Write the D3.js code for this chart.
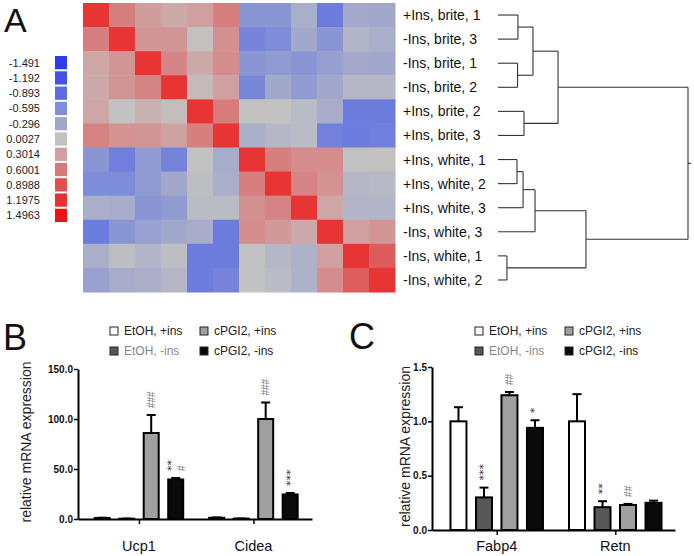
<!DOCTYPE html>
<html><head><meta charset="utf-8">
<script src="https://cdn.jsdelivr.net/npm/d3@7"></script>
<style>
html,body{margin:0;padding:0;background:#fff;}
svg{display:block;font-family:"Liberation Sans",Arial,sans-serif;}
.ann{font-family:"DejaVu Sans","Liberation Sans",sans-serif;font-variant-emoji:text;}
.annh{font-family:"Liberation Sans",Arial,sans-serif;}
</style></head>
<body><svg id="c" width="694" height="556"></svg>
<script>
// ---------- DATA ----------
const rowLabels = ["+Ins, brite, 1","-Ins, brite, 3","-Ins, brite, 1","-Ins, brite, 2","+Ins, brite, 2","+Ins, brite, 3",
  "+Ins, white, 1","+Ins, white, 2","+Ins, white, 3","-Ins, white, 3","-Ins, white, 1","-Ins, white, 2"];
const corr = [
 [1.15, 0.55, 0.33, 0.22, 0.30, 0.55,-0.50,-0.50,-0.22,-0.75,-0.28,-0.30],
 [0.55, 1.15, 0.38, 0.38, 0.02, 0.42,-0.68,-0.60,-0.30,-0.50,-0.15,-0.22],
 [0.25, 0.38, 1.15, 0.50, 0.22, 0.45,-0.50,-0.45,-0.50,-0.40,-0.28,-0.30],
 [0.22, 0.38, 0.50, 1.15, 0.08, 0.30,-0.65,-0.30,-0.45,-0.30,-0.12,-0.12],
 [0.25, 0.00, 0.15, 0.05, 1.15, 0.58, 0.00, 0.00,-0.08,-0.25,-0.75,-0.75],
 [0.52, 0.40, 0.38, 0.28, 0.55, 1.15,-0.22,-0.12,-0.08,-0.70,-0.75,-0.72],
 [-0.50,-0.72,-0.45,-0.68, 0.00,-0.25, 1.15, 0.55, 0.45, 0.45, 0.00, 0.02],
 [-0.60,-0.60,-0.45,-0.30,-0.04,-0.22, 0.55, 1.15, 0.52, 0.40,-0.12,-0.10],
 [-0.22,-0.25,-0.50,-0.45,-0.08,-0.08, 0.42, 0.52, 1.15, 0.25,-0.15,-0.15],
 [-0.75,-0.50,-0.38,-0.30,-0.25,-0.75, 0.45, 0.35, 0.22, 1.15, 0.30, 0.38],
 [-0.22,-0.04,-0.15,-0.04,-0.75,-0.75, 0.00,-0.12,-0.18, 0.30, 1.15, 0.82],
 [-0.38,-0.25,-0.22,-0.12,-0.75,-0.68, 0.00,-0.08,-0.18, 0.45, 0.80, 1.15]
];
const legendValues = [-1.491,-1.192,-0.893,-0.595,-0.296,0.0027,0.3014,0.6001,0.8988,1.1975,1.4963];
const legendLabels = ["-1.491","-1.192","-0.893","-0.595","-0.296","0.0027","0.3014","0.6001","0.8988","1.1975","1.4963"];
const legendColors = ["#2d3cf0","#4152e8","#5b6be0","#7f8ed8","#a2a8cc","#c2c2c2","#d0a0a0","#d87878","#e05050","#e83030","#f01212"];
// dendrogram: merge heights (0 = leaves, 1 = root)
const dendro = {h:1.0, children:[
  {h:0.316, children:[
    {h:0.184, children:[{h:0.105, children:[{leaf:0,h:0},{leaf:1,h:0}]},{h:0.103, children:[{leaf:2,h:0},{leaf:3,h:0}]}]},
    {h:0.137, children:[{leaf:4,h:0},{leaf:5,h:0}]}
  ]},
  {h:0.463, children:[
    {h:0.195, children:[{h:0.132, children:[{h:0.10, children:[{leaf:6,h:0},{leaf:7,h:0}]},{leaf:8,h:0}]},{leaf:9,h:0}]},
    {h:0.047, children:[{leaf:10,h:0},{leaf:11,h:0}]}
  ]}
]};

const seriesNames = ["EtOH, +ins","EtOH, -ins","cPGI2, +ins","cPGI2, -ins"];
const seriesColors = ["#ffffff","#575757","#a0a0a0","#0a0a0a"];
const seriesTextColors = ["#222","#888","#222","#222"];

const catsB = ["Ucp1","Cidea"];
const meansB = [[1.0,0.3,86,39.5],[1.2,0.4,100,24.5]];
const errsB  = [[0.3,0.1,18,1.5],[0.4,0.1,16.5,1.5]];
const ticksB = [0,50,100,150];
const annB = [
  {cat:0,s:2,text:"###",color:"#777",dx:0},
  {cat:0,s:3,text:"**",color:"#333",dx:-4},
  {cat:0,s:3,text:"#",color:"#777",dx:6},
  {cat:1,s:2,text:"###",color:"#777",dx:0},
  {cat:1,s:3,text:"***",color:"#333",dx:0}
];

const catsC = ["Fabp4","Retn"];
const meansC = [[1.0,0.30,1.24,0.94],[1.0,0.21,0.23,0.25]];
const errsC  = [[0.13,0.09,0.03,0.07],[0.25,0.055,0.01,0.02]];
const ticksC = [0,0.5,1.0,1.5];
const annC = [
  {cat:0,s:1,text:"***",color:"#333",dx:0},
  {cat:0,s:2,text:"##",color:"#777",dx:0},
  {cat:0,s:3,text:"*",color:"#333",dx:0},
  {cat:1,s:1,text:"**",color:"#333",dx:0},
  {cat:1,s:2,text:"##",color:"#777",dx:0}
];

// ---------- DRAW ----------
const svg = d3.select("#c");
const FONT = "'Liberation Sans', Arial, sans-serif";

// panel letters
[["A",4,32,34],["B",3,350,36],["C",349,349,36]].forEach(([t,x,y,fs])=>{
  svg.append("text").attr("x",x).attr("y",y).attr("font-size",fs).attr("fill","#111").text(t);
});

// heatmap
const hx = d3.scaleBand().domain(d3.range(12)).range([83,395]);
const hy = d3.scaleBand().domain(d3.range(12)).range([3,292]);
const color = d3.scaleLinear().domain(legendValues).range(legendColors).clamp(true);
const cells = [];
corr.forEach((row,i)=>row.forEach((v,j)=>cells.push({i,j,v})));
svg.append("g").selectAll("rect").data(cells).join("rect")
  .attr("x",d=>hx(d.j)).attr("y",d=>hy(d.i))
  .attr("width",hx.bandwidth()+0.5).attr("height",hy.bandwidth()+0.5)
  .attr("fill",d=>color(d.v));

// row labels
svg.append("g").selectAll("text").data(rowLabels).join("text")
  .attr("x",403).attr("y",(d,i)=>hy(i)+hy.bandwidth()/2)
  .attr("dominant-baseline","central").attr("font-size",14).attr("fill","#111").text(d=>d);

// color legend
const ly = d3.scaleBand().domain(d3.range(legendValues.length)).range([56,222]).paddingInner(0.13);
const lg = svg.append("g");
lg.selectAll("rect").data(legendColors).join("rect")
  .attr("x",55).attr("y",(d,i)=>ly(i)).attr("width",12).attr("height",ly.bandwidth()).attr("fill",d=>d);
lg.selectAll("text").data(legendLabels).join("text")
  .attr("x",40).attr("y",(d,i)=>ly(i)+ly.bandwidth()/2).attr("text-anchor","end")
  .attr("dominant-baseline","central").attr("font-size",11).attr("fill","#222").text(d=>d);

// dendrogram
const dx = d3.scaleLinear().domain([0,1]).range([498,688]);
const root = d3.hierarchy(dendro);
root.eachAfter(n=>{
  if(!n.children) n.yy = hy(n.data.leaf)+hy.bandwidth()/2;
  else n.yy = (n.children[0].yy + n.children[n.children.length-1].yy)/2;
});
const dg = svg.append("g").attr("stroke","#333").attr("stroke-width",1.1).attr("fill","none");
root.each(n=>{
  if(n.children){
    dg.append("line").attr("x1",dx(n.data.h)).attr("x2",dx(n.data.h))
      .attr("y1",n.children[0].yy).attr("y2",n.children[n.children.length-1].yy);
    n.children.forEach(c=>{
      dg.append("line").attr("x1",dx(c.data.h)).attr("x2",dx(n.data.h)).attr("y1",c.yy).attr("y2",c.yy);
    });
  }
});
dg.append("line").attr("x1",dx(1)).attr("x2",dx(1)+3).attr("y1",root.yy).attr("y2",root.yy);

// bar panels
function barPanel(cfg){
  const g = svg.append("g");
  const x = d3.scalePoint().domain(cfg.cats).range(cfg.xr).padding(cfg.pad).align(cfg.align);
  const y = d3.scaleLinear().domain(cfg.ydom).range(cfg.yr);
  const off = s => (s-1.5)*cfg.spacing;
  // bars
  cfg.means.forEach((row,ci)=>row.forEach((v,s)=>{
    const cx = x(cfg.cats[ci])+off(s);
    const top = y(v), err = y(v+cfg.errs[ci][s]);
    g.append("line").attr("x1",cx).attr("x2",cx).attr("y1",top).attr("y2",err)
      .attr("stroke","#000").attr("stroke-width",2);
    g.append("line").attr("x1",cx-4.5).attr("x2",cx+4.5).attr("y1",err).attr("y2",err)
      .attr("stroke","#000").attr("stroke-width",2);
    g.append("rect").attr("x",cx-cfg.bw/2+1).attr("y",top).attr("width",cfg.bw-2)
      .attr("height",Math.max(0,y(0)-top)).attr("fill",seriesColors[s]).attr("stroke","#000").attr("stroke-width",2);
  }));
  // axes
  const ya = d3.axisLeft(y).tickValues(cfg.ticks).tickFormat(cfg.fmt).tickSize(4).tickSizeOuter(0);
  const yg = g.append("g").attr("transform",`translate(${cfg.xr[0]},0)`).call(ya);
  yg.select(".domain").attr("stroke-width",2);
  yg.selectAll(".tick line").attr("stroke-width",1.5);
  yg.selectAll("text").attr("font-size",10).attr("font-weight","bold").attr("font-family",FONT).attr("fill","#111").attr("x",-5);
  const xa = d3.axisBottom(x).tickSize(5).tickSizeOuter(0).tickFormat("");
  const xg = g.append("g").attr("transform",`translate(0,${y(0)})`).call(xa);
  xg.select(".domain").attr("stroke-width",2);
  xg.selectAll(".tick line").attr("stroke-width",1.5);
  g.selectAll(".catlab").data(cfg.cats).join("text").attr("class","catlab")
    .attr("x",d=>x(d)).attr("y",cfg.catY).attr("text-anchor","middle").attr("font-size",14.5).attr("fill","#111").text(d=>d);
  // y label
  g.append("text").attr("transform",`translate(${cfg.ylabX},${(cfg.yr[0]+cfg.yr[1])/2-2}) rotate(-90)`)
    .attr("text-anchor","middle").attr("dominant-baseline","central").attr("font-size",14).attr("fill","#222")
    .text("relative mRNA expression");
  // annotations
  const ag = g.append("g").attr("opacity",0.995);
  cfg.ann.forEach(a=>{
    const isHash = a.text.includes("#");
    const cx = x(cfg.cats[a.cat])+off(a.s)+a.dx;
    const ty = y(cfg.means[a.cat][a.s]+cfg.errs[a.cat][a.s])-7;
    ag.append("text").attr("class",isHash?"annh":"ann").attr("transform",`translate(${cx},${ty}) rotate(-90)`)
      .attr("dominant-baseline","central").attr("font-size",isHash?10:11)
      .attr("fill",a.color).text(a.text);
  });
  // legend
  seriesNames.forEach((nm,s)=>{
    const col = s>=2?1:0, row = s%2;
    const lx = cfg.legX[col], lyy = 331+row*20;
    g.append("rect").attr("x",lx).attr("y",lyy-4).attr("width",8).attr("height",8)
      .attr("fill",seriesColors[s]).attr("stroke","#222").attr("stroke-width",1);
    g.append("text").attr("x",lx+14).attr("y",lyy).attr("dominant-baseline","central")
      .attr("font-size",12).attr("fill",seriesTextColors[s]).text(nm);
  });
}

barPanel({cats:catsB, means:meansB, errs:errsB, xr:[78,312], pad:0.522, align:0.51,
  ydom:[0,150], yr:[519,369], ticks:ticksB, fmt:d3.format(".1f"), spacing:24.5, bw:17,
  catY:551, ylabX:26, ann:annB, legX:[110,200]});
barPanel({cats:catsC, means:meansC, errs:errsC, xr:[432,675], pad:0.525, align:0.52,
  ydom:[0,1.5], yr:[530,367], ticks:ticksC, fmt:d3.format(".1f"), spacing:25.5, bw:18,
  catY:551, ylabX:405, ann:annC, legX:[475,565]});
</script></body></html>
